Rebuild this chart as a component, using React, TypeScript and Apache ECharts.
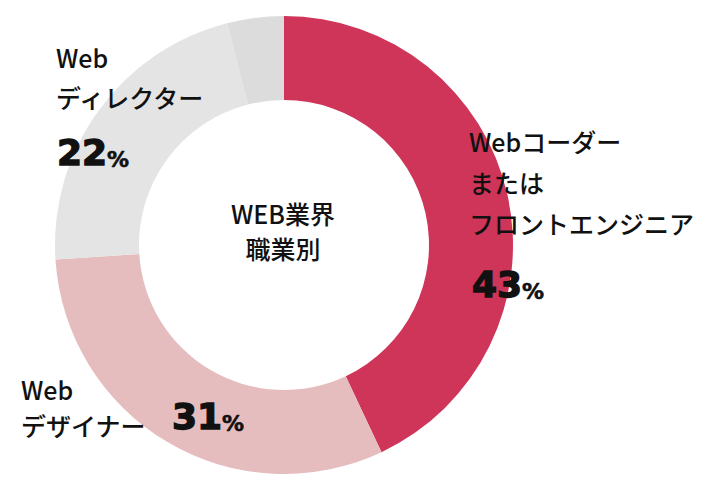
import React, { useEffect, useRef } from "react";
import * as echarts from "echarts";

const categories = ["Webコーダー\nまたは\nフロントエンジニア", "Web\nデザイナー", "Web\nディレクター", "その他"];
const shares = [43, 31, 22, 4];
const colors = ["#cf3459", "#e6bdbe", "#e4e4e4", "#dcdcdc"];
const centerTitle = "WEB業界\n職業別";

// label layout (left x, first-line top y, line height, percent left x, percent center y)
const labelLayout = [
  { x: 469, y: 120, lh: 41, px: 472, py: 282 },
  { x: 21, y: 371, lh: 36, px: 172, py: 414 },
  { x: 56, y: 37, lh: 40, px: 57, py: 150 },
];

const JP = '"Noto Sans CJK JP", "Noto Sans", sans-serif';
const NUM = '"DejaVu Sans", "Liberation Sans", sans-serif';

export default function App() {
  const ref = useRef<HTMLDivElement>(null);
  useEffect(() => {
    if (!ref.current) return;
    const chart = echarts.init(ref.current, null, { renderer: "svg" });
    const graphics: any[] = [];
    labelLayout.forEach((l, i) => {
      graphics.push({
        type: "text",
        x: l.x,
        y: l.y,
        z: 100,
        style: {
          text: categories[i],
          fontFamily: JP,
          fontSize: 25,
          fontWeight: 500,
          lineHeight: l.lh,
          fill: "#111",
          align: "left",
          verticalAlign: "top",
        },
      });
      graphics.push({
        type: "text",
        x: l.px,
        y: l.py,
        z: 100,
        style: {
          text: `{p|${shares[i]}}{s|%}`,
          align: "left",
          verticalAlign: "middle",
          rich: {
            p: {
              fontFamily: NUM, fontSize: 36, fontWeight: "bold", fill: "#111",
              stroke: "#111", lineWidth: 1.4,
              lineHeight: 40, verticalAlign: "bottom",
            },
            s: {
              fontFamily: NUM, fontSize: 22, fontWeight: "bold", fill: "#111",
              stroke: "#111", lineWidth: 0.6,
              lineHeight: 34, verticalAlign: "bottom",
            },
          },
        },
      });
    });
    graphics.push({
      type: "text",
      x: 283,
      y: 230,
      z: 100,
      style: {
        text: centerTitle,
        fontFamily: JP,
        fontSize: 25,
        fontWeight: 500,
        lineHeight: 35,
        fill: "#111",
        align: "center",
        verticalAlign: "middle",
      },
    });
    chart.setOption({
      animation: false,
      backgroundColor: "#ffffff",
      series: [
        {
          type: "pie",
          z: 1,
          center: [284, 245],
          radius: [145, 229],
          startAngle: 90,
          clockwise: true,
          label: { show: false },
          labelLine: { show: false },
          emphasis: { disabled: true },
          itemStyle: { borderWidth: 0 },
          data: shares.map((v, i) => ({
            value: v,
            name: categories[i],
            itemStyle: { color: colors[i] },
          })),
        },
      ],
      graphic: graphics,
    });
    return () => chart.dispose();
  }, []);
  return (
    <div
      ref={ref}
      style={{ position: "fixed", left: 0, top: 0, width: 718, height: 488 }}
    />
  );
}
